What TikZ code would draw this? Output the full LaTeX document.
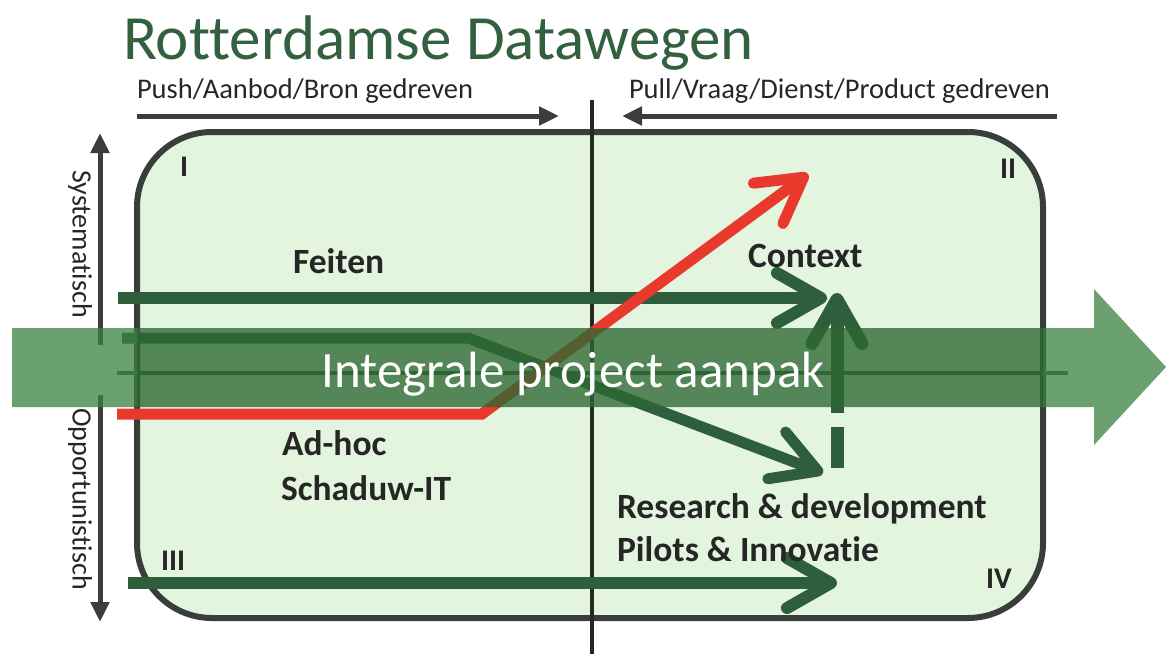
\documentclass[tikz,border=0pt]{standalone}
\usepackage{fontspec}
\setmainfont{Carlito}[Ligatures=NoCommon]
\usetikzlibrary{arrows.meta}

\definecolor{ink}{HTML}{262626}
\definecolor{axisgray}{HTML}{3C3C3C}
\definecolor{titlegreen}{HTML}{33603E}
\definecolor{dkgreen}{HTML}{2E5E3B}
\definecolor{boxfill}{HTML}{E3F5DE}
\definecolor{boxedge}{HTML}{383F3A}
\definecolor{redline}{HTML}{E8392C}
\definecolor{band}{HTML}{3A8240}

\begin{document}
\begin{tikzpicture}[x=1pt,y=-1pt,
  every node/.style={inner sep=0pt, outer sep=0pt},
  titlelbl/.style={anchor=base west, text=titlegreen, font=\fontsize{63}{68}\selectfont},
  headlbl/.style={anchor=base west, text=ink, font=\fontsize{28.5}{32}\selectfont},
  sidelbl/.style={text=ink, rotate=-90, font=\fontsize{28}{32}\selectfont},
  lbl/.style={anchor=base west, text=ink, font=\fontsize{35.5}{41}\selectfont\bfseries},
  numlbl/.style={anchor=base west, text=ink, font=\fontsize{30}{34}\selectfont\bfseries},
  axisarrow/.style={draw=axisgray, line width=5pt, -{Triangle[length=20pt,width=18pt]}},
  flow/.style={draw=dkgreen, line width=12pt, line join=miter,
    -{Straight Barb[length=44pt,width=50pt,round]}},
  redflow/.style={flow, draw=redline, line width=11pt},
  thinflow/.style={draw=dkgreen, line width=4pt},
  bandfill/.style={fill=band, fill opacity=0.75},
]
\useasboundingbox (0,0) rectangle (1166,654);

% quadrant frame
\node[draw=boxedge, fill=boxfill, line width=6pt, rounded corners=75pt,
      minimum width=906pt, minimum height=486pt] (quad) at (590,375) {};

% vertical divider between push and pull
\coordinate (divtop) at (592,100);
\coordinate (divbot) at (592,654);
\draw[draw=ink, line width=4.5pt] (divtop) -- (divbot);

% title and axis captions
\node[titlelbl] (title) at (123,59) {Rotterdamse Datawegen};
\node[headlbl] (push) at (137,98) {Push/Aanbod/Bron gedreven};
\node[headlbl] (pull) at (629,98) {Pull/Vraag/Dienst/Product gedreven};

\coordinate (pushA) at (137,116);
\coordinate (pushB) at (559,116);
\coordinate (pullA) at (1057,116);
\coordinate (pullB) at (622,116);
\draw[axisarrow] (pushA) -- (pushB);
\draw[axisarrow] (pullA) -- (pullB);

% vertical axis
\coordinate (vtopA) at (100,345);
\coordinate (vtopB) at (100,133);
\coordinate (vbotA) at (100,395);
\coordinate (vbotB) at (100,622);
\draw[axisarrow] (vtopA) -- (vtopB);
\draw[axisarrow] (vbotA) -- (vbotB);
\node[sidelbl] (sys) at (80,244) {Systematisch};
\node[sidelbl] (opp) at (80,499) {Opportunistisch};

% quadrant numbers
\node[numlbl] (q1) at (180,176) {I};
\node[numlbl] (q2) at (1000,178) {II};
\node[numlbl] (q3) at (161,570) {III};
\node[numlbl] (q4) at (986,588) {IV};

% flows
\coordinate (feitA) at (118,298);
\coordinate (feitB) at (827,298);
\draw[flow] (feitA) -- (feitB);

\coordinate (rdA) at (122,338);
\coordinate (rdK) at (468,338);
\coordinate (rdB) at (823,473);
\draw[flow, line width=11pt] (rdA) -- (rdK) -- (rdB);

\coordinate (thinA) at (117,373);
\coordinate (thinB) at (1068,373);
\draw[thinflow] (thinA) -- (thinB);

\coordinate (adhA) at (117,414);
\coordinate (adhK) at (482,414);
\coordinate (adhB) at (808,174);
\draw[redflow] (adhA) -- (adhK) -- (adhB);

\coordinate (q3A) at (128,583);
\coordinate (q3B) at (837,583);
\draw[flow] (q3A) -- (q3B);

\coordinate (upA) at (837,468);
\coordinate (upB) at (837,293);
\draw[flow, line width=13pt, dash pattern=on 41pt off 14pt on 400pt off 0pt] (upA) -- (upB);

% integral project band
\path[bandfill] (12,328) -- (1094,328) -- (1094,289) -- (1166,367)
  -- (1094,445) -- (1094,407) -- (12,407) -- cycle;
\begin{scope}
  \clip[rounded corners=75pt] (137,132) rectangle (1043,618);
  \path[fill=black, fill opacity=0.15] (12,328) -- (1094,328) -- (1094,289) -- (1166,367)
    -- (1094,445) -- (1094,407) -- (12,407) -- cycle;
\end{scope}
\node[anchor=base, text=white, font=\fontsize{51}{56}\selectfont] (band) at (573,387) {Integrale project aanpak};

% quadrant labels
\node[lbl] (feiten) at (293,273) {Feiten};
\node[lbl] (context) at (748,267) {Context};
\node[lbl] (adhoc) at (282,455) {Ad-hoc};
\node[lbl] (shadow) at (281,500) {Schaduw-IT};
\node[lbl] (research) at (617,518) {Research \& development};
\node[lbl] (pilots) at (617,561) {Pilots \& Innovatie};
\end{tikzpicture}
\end{document}
